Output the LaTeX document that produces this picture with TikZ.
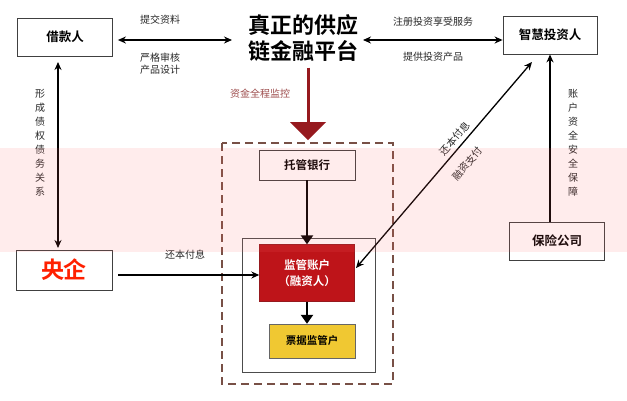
\documentclass[tikz,border=0pt]{standalone}
\usepackage{fontspec}
\newfontfamily\cjk{Noto Sans CJK SC}
\newfontfamily\cjkb{Noto Sans CJK SC Bold}
\usetikzlibrary{arrows.meta}
\definecolor{dred}{RGB}{150,25,30}
\definecolor{bred}{RGB}{190,20,25}
\definecolor{yel}{RGB}{240,200,50}
\definecolor{brn}{RGB}{120,80,70}
\definecolor{lab}{RGB}{40,40,40}
\tikzset{
  box/.style={draw=black!75,line width=0.8pt,fill=white,inner sep=0pt,font=\cjkb\fontsize{12.5}{14}\selectfont},
  lbl/.style={font=\cjk\fontsize{10}{12}\selectfont,text=lab,inner sep=1pt},
  vlbl/.style={lbl,align=center,text width=10pt,font=\cjk\fontsize{10}{14}\selectfont},
  conn/.style={line width=1.3pt,-{Stealth[length=8pt,width=7pt]}},
  dconn/.style={line width=1.3pt,{Stealth[length=8pt,width=7pt]}-{Stealth[length=8pt,width=7pt]}}
}
\begin{document}
\begin{tikzpicture}[x=1pt,y=-1pt]
\useasboundingbox (0,0) rectangle (627,400);
\fill[white] (0,0) rectangle (627,400);
% nodes
\node[box,minimum width=95pt,minimum height=38pt] (jk) at (65,37) {借款人};
\node[font=\cjkb\fontsize{22}{26}\selectfont,align=center,inner sep=2pt] (pt) at (303,38) {真正的供应\\链金融平台};
\node[box,minimum width=94pt,minimum height=38pt] (tz) at (550,35) {智慧投资人};
\node[box,minimum width=95pt,minimum height=38pt] (bx) at (557,241) {保险公司};
\node[box,minimum width=96pt,minimum height=40pt,text=red!75!orange,font=\cjkb\fontsize{23}{24}\selectfont] (yq) at (64,270) {央企};
\draw[brn,line width=2.5pt,dash pattern=on 8pt off 5pt] (222,143) rectangle (393,384);
\draw[black!70,line width=0.6pt] (242,238) rectangle (375,372);
\node[box,minimum width=96pt,minimum height=30pt,font=\cjkb\fontsize{11.5}{13}\selectfont] (tg) at (307,165) {托管银行};
\node[draw=dred,fill=bred,text=white,minimum width=95pt,minimum height=57pt,align=center,font=\cjkb\fontsize{11.5}{16}\selectfont] (jg) at (307,273) {监管账户\\（融资人）};
\node[draw=black!60,fill=yel,minimum width=86pt,minimum height=34pt,font=\cjkb\fontsize{10.5}{12}\selectfont] (pj) at (312,341) {票据监管户};
% connectors
\draw[dconn] (jk.east)++(5,3) coordinate (a1) -- (232,40) coordinate (a2);
\node[lbl] at (160,20) {提交资料};
\node[lbl,align=center] at (160,64) {严格审核\\产品设计};
\draw[dconn] (363,40) coordinate (b1) -- (tz.west|-b1);
\node[lbl] at (433,22) {注册投资享受服务};
\node[lbl] at (433,57) {提供投资产品};
\draw[dred,line width=3pt] (pt.south)++(5,4) coordinate (c1) -- (308,124);
\fill[dred] (290,122) -- (326,122) -- (308,140) -- cycle;
\node[lbl,text=red!45!black!70] at (260,94) {资金全程监控};
\draw[dconn] (58,62) -- (58,248);
\node[vlbl] at (40,143) {形\\成\\债\\权\\债\\务\\关\\系};
\draw[conn] (bx.north-|tz.south) -- (tz.south);
\node[vlbl] at (573,143) {账\\户\\资\\全\\安\\全\\保\\障};
\draw[conn] (yq.east)++(6,5) -- (jg.west|-285,275);
\node[lbl] at (185,255) {还本付息};
\draw[line width=2.8pt,-{Triangle[length=9pt,width=12pt]}] (tg.south) -- (jg.north);
\draw[line width=2.8pt,-{Triangle[length=9pt,width=12pt]}] (jg.south) -- (pj.north-|jg.south);
\draw[dconn] (356,268) coordinate (d1) -- (532,62) coordinate (d2);
\path ([shift={(-7,-6)}]d1) -- ([shift={(-7,-6)}]d2) node[pos=0.6,sloped,lbl] {还本付息};
\path ([shift={(13,11)}]d1) -- ([shift={(13,11)}]d2) node[pos=0.56,sloped,lbl] {融资支付};
% watermark band
\fill[red!60,opacity=0.12] (0,148) rectangle (627,252);
\end{tikzpicture}
\end{document}
